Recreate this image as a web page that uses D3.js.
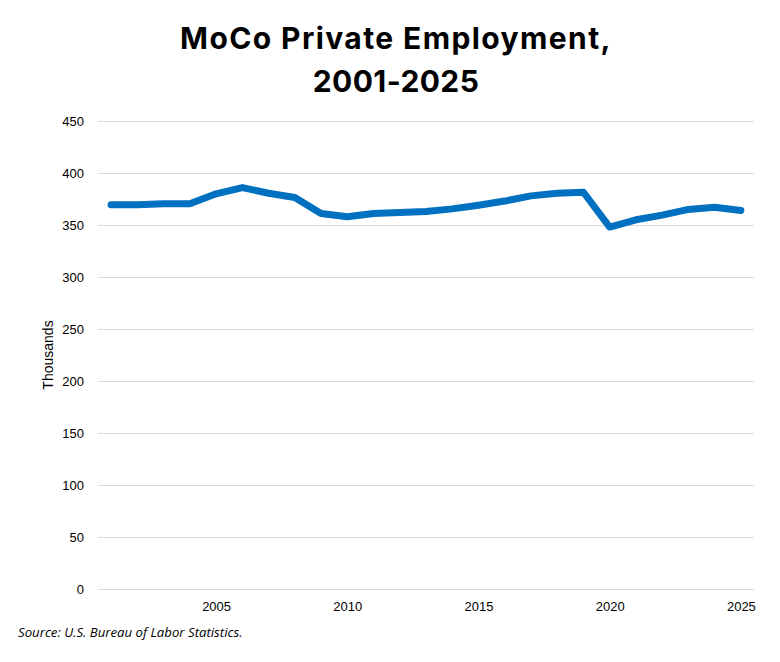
<!DOCTYPE html>
<html>
<head>
  <title>MoCo Private Employment</title>
  <script src="https://d3js.org/d3.v7.min.js"></script>
  <style>
    body { margin: 0; background: #fff; }
  </style>
</head>
<body>
  <svg width="780" height="662"></svg>

  <script>
    // Datos (miles de empleos privados)
    const years = [2001, 2002, 2003, 2004, 2005, 2006, 2007, 2008, 2009, 2010, 2011, 2012, 2013,
                   2014, 2015, 2016, 2017, 2018, 2019, 2020, 2021, 2022, 2023, 2024, 2025];
    const employment = [369.5, 369.5, 370.5, 370.5, 380, 386, 380.5, 376.5, 361, 358, 361, 362, 363,
                        365.5, 369, 373, 378, 380.5, 381.5, 348, 355, 359.5, 365, 367, 364];
    const yTicks = [0, 50, 100, 150, 200, 250, 300, 350, 400, 450];
    const xTicks = [2005, 2010, 2015, 2020, 2025];

    const svg = d3.select("svg");
    const m = { left: 98, right: 754, top: 121, bottom: 589 };

    const x = d3.scaleLinear().domain([2000.5, 2025.5]).range([m.left, m.right]);
    const y = d3.scaleLinear().domain([0, 450]).range([m.bottom, m.top]);

    // Título
    svg.append("text")
      .attr("text-anchor", "middle")
      .style("font-family", "Inter, 'Open Sans', sans-serif")
      .style("font-weight", "bold")
      .style("font-size", "30px")
      .selectAll("tspan")
      .data([["MoCo Private Employment,", 49, "1.4px"], ["2001-2025", 92, "0.4px"]])
      .enter().append("tspan")
      .attr("x", 396)
      .attr("y", d => d[1])
      .style("letter-spacing", d => d[2])
      .text(d => d[0]);

    // Rejilla y eje Y
    const yAxis = svg.append("g")
      .attr("transform", `translate(${m.left},0)`)
      .call(d3.axisLeft(y).tickValues(yTicks).tickSize(-(m.right - m.left)).tickPadding(14));
    yAxis.select(".domain").remove();
    yAxis.selectAll("line").attr("stroke", "#d9d9d9");
    yAxis.selectAll("text")
      .style("font-family", "'Liberation Sans', Arial, sans-serif")
      .style("font-size", "13px")
      .attr("fill", "#000");

    // Eje X
    const xAxis = svg.append("g")
      .attr("transform", `translate(0,${m.bottom})`)
      .call(d3.axisBottom(x).tickValues(xTicks).tickFormat(d3.format("d")).tickSize(0).tickPadding(13));
    xAxis.select(".domain").remove();
    xAxis.selectAll("text")
      .style("font-family", "'Liberation Sans', Arial, sans-serif")
      .style("font-size", "13px")
      .attr("fill", "#000");

    // Título del eje Y
    svg.append("text")
      .attr("transform", "translate(53,355) rotate(-90)")
      .attr("text-anchor", "middle")
      .style("font-family", "'Liberation Sans', Arial, sans-serif")
      .style("font-size", "14px")
      .text("Thousands");

    // Línea
    svg.append("path")
      .datum(years.map((yr, i) => [yr, employment[i]]))
      .attr("fill", "none")
      .attr("stroke", "#0070c0")
      .attr("stroke-width", 7)
      .attr("stroke-linecap", "round")
      .attr("stroke-linejoin", "round")
      .attr("d", d3.line().x(d => x(d[0])).y(d => y(d[1])));

    // Fuente
    svg.append("text")
      .attr("x", 18).attr("y", 637)
      .style("font-family", "'Open Sans', sans-serif")
      .style("font-style", "italic")
      .style("font-size", "13.2px")
      .text("Source: U.S. Bureau of Labor Statistics.");
  </script>
</body>
</html>
